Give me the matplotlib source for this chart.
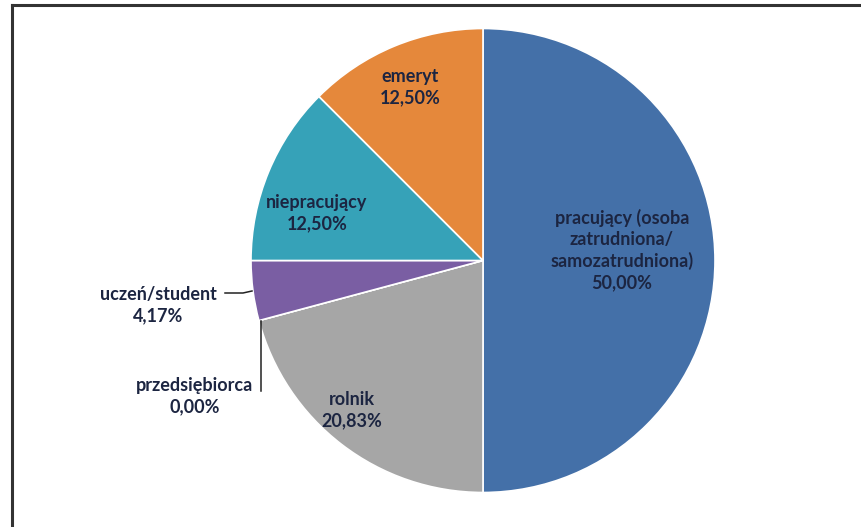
import matplotlib
matplotlib.use("Agg")
import matplotlib.pyplot as plt

# Data (clockwise from 12 o'clock)
categories = ["pracujący (osoba\nzatrudniona/\nsamozatrudniona)", "rolnik", "przedsiębiorca",
              "uczeń/student", "niepracujący", "emeryt"]
shares = [50.00, 20.83, 0.00, 4.17, 12.50, 12.50]
colors = ["#4470a8", "#a6a6a6", "#8064a2", "#7a5ea3", "#36a2b8", "#e5883b"]

# Label anchor positions in pixels (x, y from top)
label_pos = [(622, 250), (352, 410), (195, 396), (158, 305), (317, 213), (410, 87)]

W, H = 862, 527
plt.rcParams['font.family'] = ['Lato', 'DejaVu Sans']

fig = plt.figure(figsize=(W / 100, H / 100), dpi=100)
ax = fig.add_axes([0, 0, 1, 1])

cx, cy, r = 483, H - 260.5, 232
wedges, _ = ax.pie(shares, colors=colors, startangle=90, counterclock=False,
                   center=(cx, cy), radius=r,
                   wedgeprops=dict(edgecolor="white", linewidth=1.2))

for lab, val, (x, y) in zip(categories, shares, label_pos):
    txt = lab + "\n" + f"{val:.2f}%".replace(".", ",")
    ax.text(x, H - y, txt, ha="center", va="center", fontsize=13,
            fontweight="bold", color="#1c2541", linespacing=1.3)

# leader lines for the small slices
ax.plot([225, 243, 252], [H - 293, H - 293, H - 291], color="#222222", lw=1.1)
ax.plot([261, 261], [H - 321, H - 391], color="#222222", lw=1.1)

# outer frame (top and left edges visible)
ax.plot([12, W + 5], [H - 5, H - 5], color="#333333", lw=2.2, clip_on=False)
ax.plot([12, 12], [H - 5, -5], color="#333333", lw=2.2, clip_on=False)

ax.set_xlim(0, W)
ax.set_ylim(0, H)
ax.set_aspect("auto")
ax.axis("off")

fig.savefig("out.png", dpi=100)
